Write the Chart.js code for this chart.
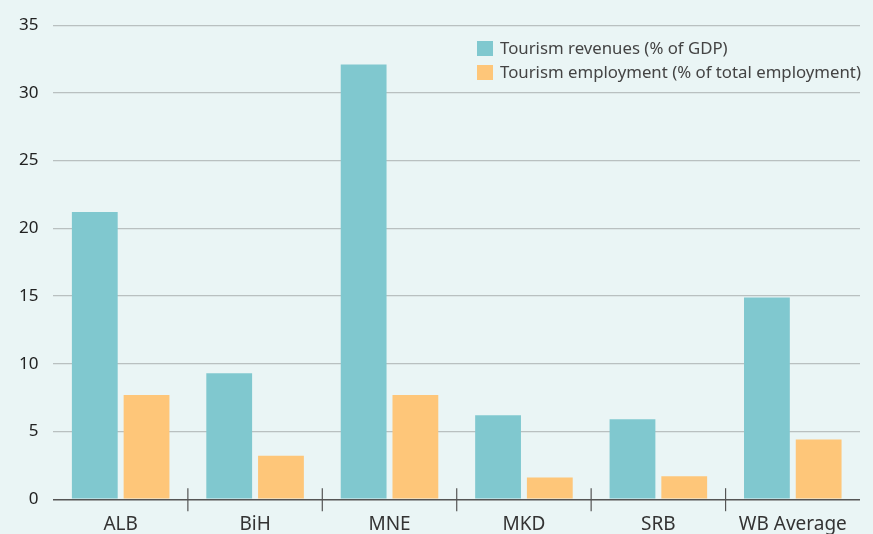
<!DOCTYPE html>
<html>
<head>
<meta charset="utf-8">
<script src="https://cdn.jsdelivr.net/npm/chart.js@4"></script>
<style>
  html, body { margin: 0; padding: 0; background: #eaf5f5; }
  #wrap { width: 873px; height: 534px; }
</style>
</head>
<body>
<div id="wrap"><canvas id="chart" width="873" height="534"></canvas></div>
<script>
const categories = ['ALB', 'BiH', 'MNE', 'MKD', 'SRB', 'WB Average'];
const revenues = [21.2, 9.3, 32.1, 6.2, 5.9, 14.9];
const employment = [7.7, 3.2, 7.7, 1.6, 1.7, 4.4];
const seriesNames = ['Tourism revenues (% of GDP)', 'Tourism employment (% of total employment)'];
const yTicks = [0, 5, 10, 15, 20, 25, 30, 35];

const FONT = '"Noto Sans", "Open Sans", sans-serif';

// tick marks between categories, crossing the axis line
const sepTicks = {
  id: 'sepTicks',
  afterDatasetsDraw(chart) {
    const { ctx, scales: { x, y } } = chart;
    const y0 = y.getPixelForValue(0);
    ctx.save();
    ctx.strokeStyle = '#555';
    ctx.lineWidth = 1.2;
    for (let i = 1; i < categories.length; i++) {
      const px = (x.getPixelForTick(i - 1) + x.getPixelForTick(i)) / 2;
      ctx.beginPath();
      ctx.moveTo(px, y0 - 11);
      ctx.lineTo(px, y0 + 12);
      ctx.stroke();
    }
    ctx.restore();
  }
};

// legend drawn inside the plot, top right
const innerLegend = {
  id: 'innerLegend',
  afterDraw(chart) {
    const { ctx } = chart;
    ctx.save();
    ctx.font = '16.8px ' + FONT;
    ctx.textBaseline = 'middle';
    chart.data.datasets.forEach((ds, i) => {
      const top = 41 + i * 24;
      ctx.fillStyle = ds.backgroundColor;
      ctx.fillRect(477, top, 16, 15);
      ctx.fillStyle = '#444';
      ctx.fillText(ds.label, 500, top + 8);
    });
    ctx.restore();
  }
};

new Chart(document.getElementById('chart'), {
  type: 'bar',
  data: {
    labels: categories,
    datasets: [
      { label: seriesNames[0], data: revenues, backgroundColor: '#80c8cf' },
      { label: seriesNames[1], data: employment, backgroundColor: '#fec679' }
    ]
  },
  options: {
    responsive: false,
    animation: false,
    layout: { padding: { top: 16, right: 13, left: 4, bottom: -8 } },
    datasets: { bar: { categoryPercentage: 0.77, barPercentage: 0.885 } },
    plugins: { legend: { display: false }, tooltip: { enabled: false } },
    scales: {
      x: {
        grid: { display: false },
        border: { display: false },
        ticks: { color: '#333', font: { family: FONT, size: 19 }, padding: 6 }
      },
      y: {
        min: 0,
        max: 35,
        afterBuildTicks(axis) { axis.ticks = yTicks.map(v => ({ value: v })); },
        border: { display: false },
        grid: {
          drawTicks: false,
          color: ctx => ctx.tick.value === 0 ? '#555' : '#b9c0c0',
          lineWidth: ctx => ctx.tick.value === 0 ? 1.4 : 1.2
        },
        ticks: { color: '#222', font: { family: FONT, size: 17 }, padding: 15 }
      }
    }
  },
  plugins: [sepTicks, innerLegend]
});
</script>
</body>
</html>
